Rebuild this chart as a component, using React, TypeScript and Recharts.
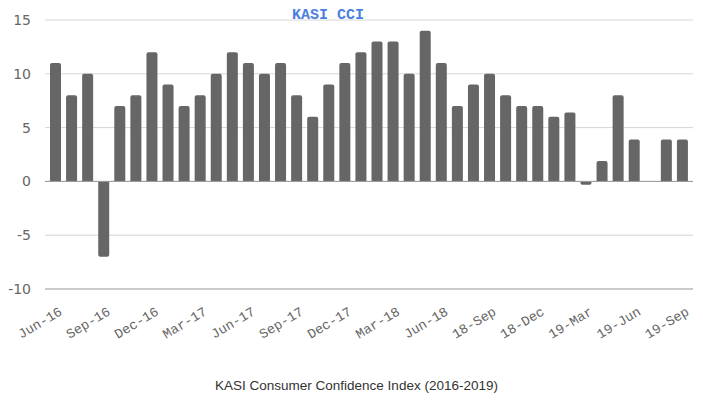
import { BarChart, Bar, XAxis, YAxis, CartesianGrid, ReferenceLine } from 'recharts';

const months = [
  'Jun-16', 'Jul-16', 'Aug-16', 'Sep-16', 'Oct-16', 'Nov-16', 'Dec-16',
  'Jan-17', 'Feb-17', 'Mar-17', 'Apr-17', 'May-17', 'Jun-17', 'Jul-17', 'Aug-17', 'Sep-17', 'Oct-17', 'Nov-17', 'Dec-17',
  'Jan-18', 'Feb-18', 'Mar-18', 'Apr-18', 'May-18', 'Jun-18', 'Jul-18', 'Aug-18', '18-Sep', '18-Oct', '18-Nov', '18-Dec',
  '19-Jan', '19-Feb', '19-Mar', '19-Apr', '19-May', '19-Jun', '19-Jul', '19-Aug', '19-Sep'
];

const cci = [
  11, 8, 10, -7, 7, 8, 12,
  9, 7, 8, 10, 12, 11, 10, 11, 8, 6, 9, 11,
  12, 13, 13, 10, 14, 11, 7, 9, 10, 8, 7, 7,
  6, 6.4, -0.3, 1.9, 8, 3.9, 0, 3.9, 3.9
];

const yTicks = [-10, -5, 0, 5, 10, 15];

const data = months.map((m, i) => ({ month: m, cci: cci[i] }));

const MonthTick = (props: any) => {
  const { x, y, payload } = props;
  const tx = x + 8;
  const ty = y + 17;
  return (
    <text
      x={tx} y={ty}
      transform={`rotate(-31, ${tx}, ${ty})`}
      textAnchor="end"
      fill="#666"
      fontSize={13.5}
      fontFamily="'Liberation Mono', 'Courier New', monospace"
    >
      {payload.value}
    </text>
  );
};

export default function App() {
  return (
    <div style={{ position: 'absolute', left: 0, top: 0, width: 703, height: 401, background: '#fff' }}>
      <BarChart width={703} height={401} data={data} margin={{ top: 20, right: 10, bottom: 72, left: 0 }}>
        <CartesianGrid vertical={false} stroke="#d6d6d6" />
        <XAxis
          dataKey="month" interval={2} tick={<MonthTick />}
          axisLine={false} tickLine={false} height={40} padding={{ left: 2, right: 3 }}
        />
        <YAxis
          domain={[-10, 15]} ticks={yTicks} width={45} tickMargin={8}
          axisLine={false} tickLine={false}
          tick={{ fill: '#666', fontSize: 14, fontFamily: "'DejaVu Sans', Verdana, sans-serif" }}
        />
        <ReferenceLine y={0} stroke="#999" />
        <ReferenceLine y={-10} stroke="#aaa" />
        <Bar dataKey="cci" fill="#666666" barSize={11} radius={[2, 2, 0, 0]} isAnimationActive={false} />
      </BarChart>
      <div style={{
        position: 'absolute', left: 292, top: 8, color: '#4a7fe0', fontWeight: 'bold',
        fontSize: 15, fontFamily: "'Liberation Mono', 'Courier New', monospace", lineHeight: '16px'
      }}>
        KASI CCI
      </div>
      <div style={{
        position: 'absolute', left: 0, width: 713, top: 378, textAlign: 'center', color: '#333',
        fontSize: 13.5, fontFamily: "'Liberation Sans', Arial, sans-serif"
      }}>
        KASI Consumer Confidence Index (2016-2019)
      </div>
    </div>
  );
}
